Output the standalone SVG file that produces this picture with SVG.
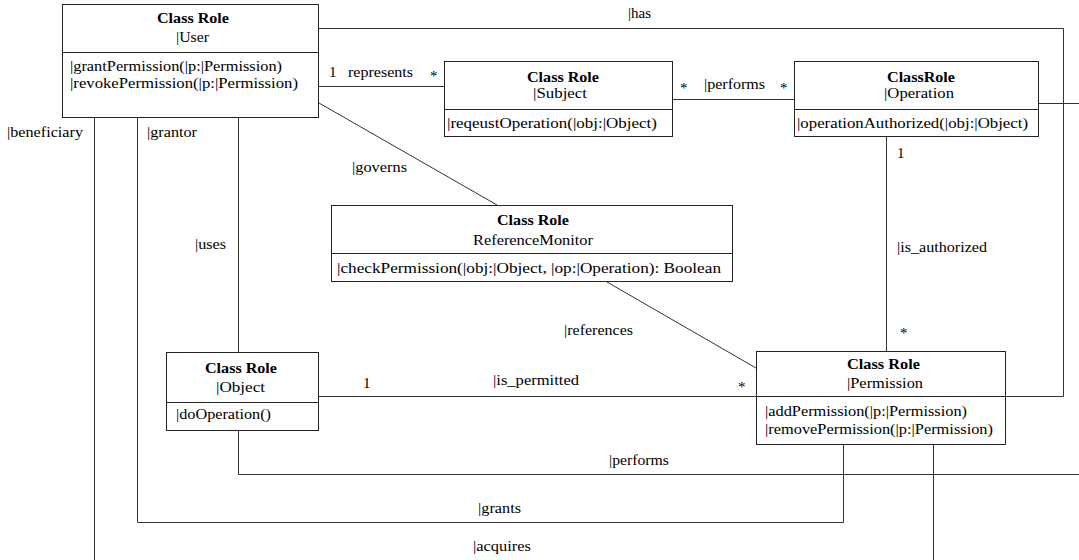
<svg xmlns="http://www.w3.org/2000/svg" width="1079" height="560" viewBox="0 0 1079 560">
<style>
text { font-family: "Liberation Serif", "Times New Roman", serif; font-size: 15px; fill: #000; }
.t { font-weight: bold; }
.box { fill: #fff; stroke: #222; stroke-width: 1; }
.div { stroke: #222; stroke-width: 1; }
.c { fill: none; stroke: #333; stroke-width: 1; }
</style>
<rect width="1079" height="560" fill="#fff"/>
<g id="connectors">
  <polyline class="c" points="319,28.5 1063.5,28.5 1063.5,396.5 1006,396.5"/>
  <line class="c" x1="319" y1="86.5" x2="444" y2="86.5"/>
  <line class="c" x1="673" y1="99.5" x2="794" y2="99.5"/>
  <line class="c" x1="1039" y1="103.5" x2="1079" y2="103.5"/>
  <line class="c" x1="319" y1="103" x2="497" y2="205"/>
  <line class="c" x1="607" y1="282" x2="756" y2="368"/>
  <line class="c" x1="886.5" y1="137" x2="886.5" y2="351"/>
  <line class="c" x1="238.5" y1="117" x2="238.5" y2="352"/>
  <line class="c" x1="319" y1="396.5" x2="756" y2="396.5"/>
  <polyline class="c" points="238.5,431 238.5,474.5 1079,474.5"/>
  <polyline class="c" points="137.5,117 137.5,522.5 843.5,522.5 843.5,445"/>
  <line class="c" x1="94.5" y1="117" x2="94.5" y2="560"/>
  <line class="c" x1="933.5" y1="445" x2="933.5" y2="560"/>
  <text x="628" y="18" textLength="23" lengthAdjust="spacingAndGlyphs">|has</text>
  <text x="329" y="77">1</text>
  <text x="348" y="77" textLength="65" lengthAdjust="spacingAndGlyphs">represents</text>
  <text x="430" y="81">*</text>
  <text x="680" y="93">*</text>
  <text x="704" y="89" textLength="61" lengthAdjust="spacingAndGlyphs">|performs</text>
  <text x="780" y="93">*</text>
  <text x="352" y="172" textLength="55" lengthAdjust="spacingAndGlyphs">|governs</text>
  <text x="7" y="137" textLength="76" lengthAdjust="spacingAndGlyphs">|beneficiary</text>
  <text x="147" y="137" textLength="50" lengthAdjust="spacingAndGlyphs">|grantor</text>
  <text x="195" y="249" textLength="31" lengthAdjust="spacingAndGlyphs">|uses</text>
  <text x="897" y="158">1</text>
  <text x="897" y="252" textLength="90" lengthAdjust="spacingAndGlyphs">|is_authorized</text>
  <text x="900" y="338">*</text>
  <text x="564" y="335" textLength="69" lengthAdjust="spacingAndGlyphs">|references</text>
  <text x="363" y="388">1</text>
  <text x="493" y="385" textLength="86" lengthAdjust="spacingAndGlyphs">|is_permitted</text>
  <text x="738" y="392">*</text>
  <text x="609" y="465" textLength="60" lengthAdjust="spacingAndGlyphs">|performs</text>
  <text x="478" y="513" textLength="43" lengthAdjust="spacingAndGlyphs">|grants</text>
  <text x="473" y="551" textLength="58" lengthAdjust="spacingAndGlyphs">|acquires</text>
</g>
<g id="user">
  <rect class="box" x="62.5" y="4.5" width="256" height="113"/>
  <line class="div" x1="62" y1="52.5" x2="319" y2="52.5"/>
  <text class="t" x="157" y="23" textLength="72" lengthAdjust="spacingAndGlyphs">Class Role</text>
  <text x="176" y="42" textLength="33" lengthAdjust="spacingAndGlyphs">|User</text>
  <text x="70" y="71" textLength="212" lengthAdjust="spacingAndGlyphs">|grantPermission(|p:|Permission)</text>
  <text x="70" y="88" textLength="228" lengthAdjust="spacingAndGlyphs">|revokePermission(|p:|Permission)</text>
</g>
<g id="subject">
  <rect class="box" x="444.5" y="61.5" width="228" height="75"/>
  <line class="div" x1="444" y1="109.5" x2="673" y2="109.5"/>
  <text class="t" x="527" y="82" textLength="72" lengthAdjust="spacingAndGlyphs">Class Role</text>
  <text x="533" y="98" textLength="54" lengthAdjust="spacingAndGlyphs">|Subject</text>
  <text x="447" y="128" textLength="210" lengthAdjust="spacingAndGlyphs">|reqeustOperation(|obj:|Object)</text>
</g>
<g id="operation">
  <rect class="box" x="794.5" y="61.5" width="244" height="75"/>
  <line class="div" x1="794" y1="109.5" x2="1039" y2="109.5"/>
  <text class="t" x="887" y="82" textLength="68" lengthAdjust="spacingAndGlyphs">ClassRole</text>
  <text x="884" y="98" textLength="70" lengthAdjust="spacingAndGlyphs">|Operation</text>
  <text x="797" y="128" textLength="231" lengthAdjust="spacingAndGlyphs">|operationAuthorized(|obj:|Object)</text>
</g>
<g id="referencemonitor">
  <rect class="box" x="331.5" y="205.5" width="401" height="76"/>
  <line class="div" x1="331" y1="253.5" x2="733" y2="253.5"/>
  <text class="t" x="497" y="225" textLength="72" lengthAdjust="spacingAndGlyphs">Class Role</text>
  <text x="473" y="245" textLength="120" lengthAdjust="spacingAndGlyphs">ReferenceMonitor</text>
  <text x="337" y="273" textLength="384" lengthAdjust="spacingAndGlyphs">|checkPermission(|obj:|Object, |op:|Operation): Boolean</text>
</g>
<g id="permission">
  <rect class="box" x="756.5" y="351.5" width="249" height="93"/>
  <line class="div" x1="756" y1="396.5" x2="1006" y2="396.5"/>
  <text class="t" x="847" y="369" textLength="73" lengthAdjust="spacingAndGlyphs">Class Role</text>
  <text x="847" y="388" textLength="76" lengthAdjust="spacingAndGlyphs">|Permission</text>
  <text x="765" y="416" textLength="202" lengthAdjust="spacingAndGlyphs">|addPermission(|p:|Permission)</text>
  <text x="765" y="434" textLength="228" lengthAdjust="spacingAndGlyphs">|removePermission(|p:|Permission)</text>
</g>
<g id="object">
  <rect class="box" x="166.5" y="352.5" width="152" height="78"/>
  <line class="div" x1="166" y1="402.5" x2="319" y2="402.5"/>
  <text class="t" x="205" y="373" textLength="72" lengthAdjust="spacingAndGlyphs">Class Role</text>
  <text x="216" y="392" textLength="49" lengthAdjust="spacingAndGlyphs">|Object</text>
  <text x="176" y="419" textLength="95" lengthAdjust="spacingAndGlyphs">|doOperation()</text>
</g>
</svg>
